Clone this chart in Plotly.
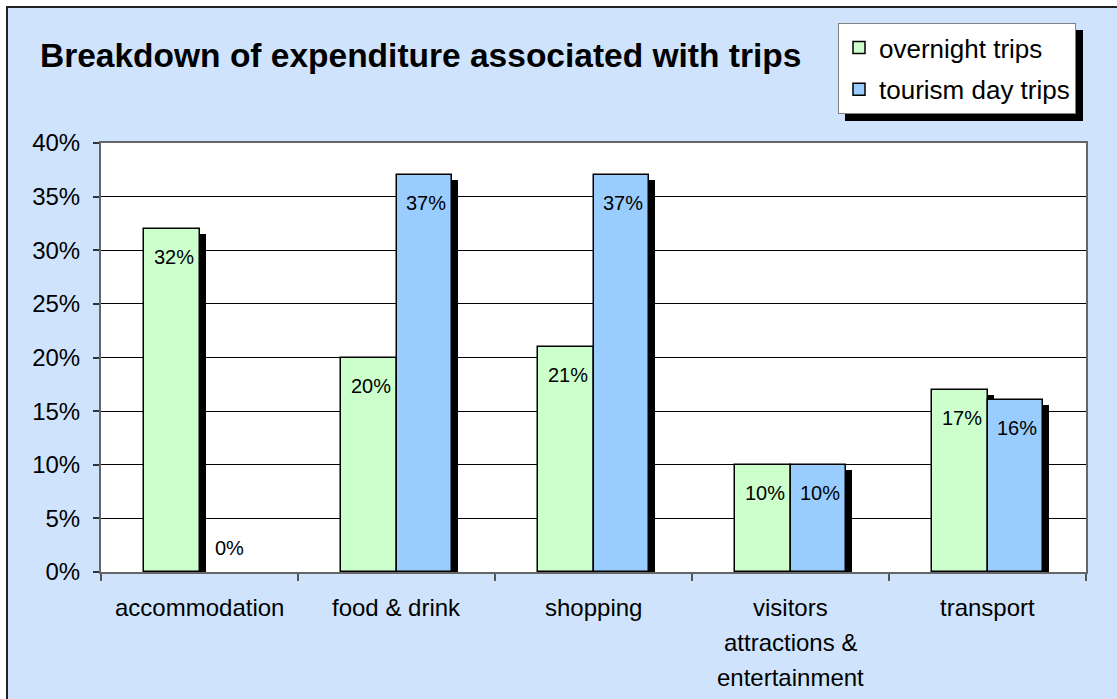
import plotly.graph_objects as go

categories = ["accommodation", "food & drink", "shopping",
              "visitors attractions & entertainment", "transport"]
category_lines = [["accommodation"], ["food & drink"], ["shopping"],
                  ["visitors", "attractions &", "entertainment"], ["transport"]]
overnight = [32, 20, 21, 10, 17]
day_trips = [0, 37, 37, 10, 16]
series = [("overnight trips", overnight, "#CCFFCC"),
          ("tourism day trips", day_trips, "#99CCFF")]

FONT = "Liberation Sans, Arial, sans-serif"
W, H = 1117, 699
ML, MR, MT, MB = 101, 31, 143, 127
PW, PH = W - ML - MR, H - MT - MB


def px_x(px):
    return (px - ML) / PW


def px_y(py):
    return (H - MB - py) / PH


BAR_W = 0.284
SH_DX = 6 / 197
SH_DY = 0.47

fig = go.Figure()

# shadows
for i, (name, vals, col) in enumerate(series):
    off = -BAR_W + i * BAR_W
    fig.add_trace(go.Bar(
        x=categories, y=[max(v - SH_DY, 0) for v in vals],
        offset=off + SH_DX, width=BAR_W,
        marker=dict(color="black", line=dict(width=0)),
        showlegend=False, hoverinfo="skip"))

for i, (name, vals, col) in enumerate(series):
    off = -BAR_W + i * BAR_W
    fig.add_trace(go.Bar(
        x=categories, y=[v if v > 0 else None for v in vals],
        name=name, legendgroup=name,
        offset=off, width=BAR_W,
        marker=dict(color=col, line=dict(color="black", width=1.5))))

annotations = []
for i, (name, vals, col) in enumerate(series):
    xs = (-0.5 + i) * BAR_W * 197 + 2
    for c, v in zip(categories, vals):
        annotations.append(dict(
            x=c, y=v, xref="x", yref="y", text=f"{v}%", showarrow=False,
            xshift=xs, yshift=(-28 if v > 3 else 24), yanchor="middle",
            font=dict(family=FONT, size=20, color="black")))

for c, lines in zip(categories, category_lines):
    for j, ln in enumerate(lines):
        annotations.append(dict(
            x=c, y=0, xref="x", yref="paper", text=ln, showarrow=False,
            yshift=-35 - 35 * j, yanchor="middle",
            font=dict(family=FONT, size=24, color="black")))

shapes = [
    dict(type="rect", xref="paper", yref="paper", layer="below",
         x0=px_x(7), x1=px_x(W + 10), y0=px_y(H + 10), y1=px_y(7),
         fillcolor="#CFE4FC", line=dict(color="#222222", width=2)),
    dict(type="rect", xref="paper", yref="paper", layer="below",
         x0=0, x1=1, y0=0, y1=1, fillcolor="white", line=dict(width=0)),
    dict(type="rect", xref="paper", yref="paper", layer="below",
         x0=px_x(845), x1=px_x(1083), y0=px_y(121), y1=px_y(30),
         fillcolor="black", line=dict(width=0)),
]

fig.update_layout(
    width=W, height=H,
    margin=dict(l=ML, r=MR, t=MT, b=MB),
    paper_bgcolor="white", plot_bgcolor="white",
    barmode="overlay",
    font=dict(family=FONT, color="black"),
    title=dict(text="<b>Breakdown of expenditure associated with trips</b>",
               x=40 / W, xref="container", xanchor="left",
               y=1 - 55 / H, yref="container", yanchor="middle",
               font=dict(family=FONT, size=33.5, color="black")),
    legend=dict(x=px_x(838), y=px_y(23), xanchor="left", yanchor="top",
                bgcolor="white", bordercolor="#808080", borderwidth=1,
                font=dict(family=FONT, size=26, color="black"),
                traceorder="grouped", tracegroupgap=5),
    showlegend=True,
    shapes=shapes,
    annotations=annotations,
    bargap=0,
)

fig.update_xaxes(type="category", range=[-0.5, 4.5], showticklabels=False,
                 tickson="boundaries", ticks="outside", ticklen=7,
                 tickcolor="#555555", tickwidth=2,
                 showline=True, linecolor="#666666", linewidth=2, mirror=True,
                 showgrid=False, zeroline=False, fixedrange=True)
fig.update_yaxes(range=[0, 40], dtick=5, tick0=0, ticksuffix="%",
                 ticks="outside", ticklen=6, tickcolor="#333333", tickwidth=1.5,
                 ticklabelstandoff=8,
                 tickfont=dict(family=FONT, size=24, color="black"),
                 showline=True, linecolor="#666666", linewidth=2, mirror=True,
                 showgrid=True, gridcolor="black", gridwidth=1,
                 zeroline=False, fixedrange=True)

fig.write_html("out.html")
